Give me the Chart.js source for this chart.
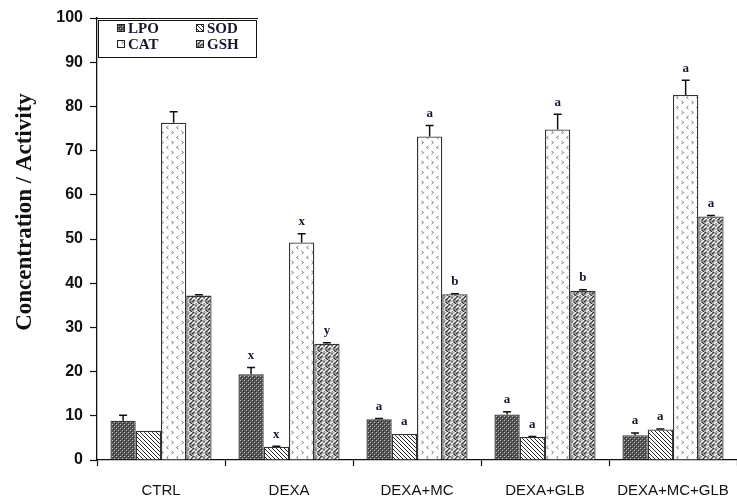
<!DOCTYPE html>
<html><head><meta charset="utf-8">
<script src="https://cdn.jsdelivr.net/npm/chart.js@4.4.1/dist/chart.umd.min.js"></script>
<style>html,body{margin:0;padding:0;background:#fff}#wrap{width:737px;height:498px}</style>
</head><body><div id="wrap"><canvas id="c" width="737" height="498"></canvas></div>
<script>
const categories = ['CTRL', 'DEXA', 'DEXA+MC', 'DEXA+GLB', 'DEXA+MC+GLB'];
const seriesNames = ['LPO', 'SOD', 'CAT', 'GSH'];
const lpo = [8.9, 19.4, 9.2, 10.3, 5.6];
const lpoErr = [1.2, 1.5, 0.2, 0.6, 0.5];
const sod = [6.6, 3.0, 5.9, 5.2, 6.9];
const sodErr = [0, 0.1, 0, 0.1, 0.1];
const cat = [76.3, 49.2, 73.2, 74.8, 82.6];
const catErr = [2.5, 2.0, 2.5, 3.4, 3.3];
const gsh = [37.2, 26.3, 37.5, 38.3, 55.1];
const gshErr = [0.2, 0.2, 0.1, 0.2, 0.2];
const lpoSig = ['', 'x', 'a', 'a', 'a'];
const sodSig = ['', 'x', 'a', 'a', 'a'];
const catSig = ['', 'x', 'a', 'a', 'a'];
const gshSig = ['', 'y', 'b', 'b', 'a'];
const yTickValues = [0, 10, 20, 30, 40, 50, 60, 70, 80, 90, 100];
const yTitle = 'Concentration / Activity';

function tile(w, h, draw) {
  const c = document.createElement('canvas');
  c.width = w; c.height = h;
  const x = c.getContext('2d');
  draw(x);
  return document.getElementById('c').getContext('2d').createPattern(c, 'repeat');
}
const patLPO = tile(4, 4, x => {
  x.fillStyle = '#555'; x.fillRect(0, 0, 4, 4);
  x.fillStyle = '#c8c8c8'; x.fillRect(0, 0, 1, 1); x.fillRect(2, 2, 1, 1);
  x.fillStyle = '#262626'; x.fillRect(1, 1, 1, 1); x.fillRect(3, 3, 1, 1);
});
const patSOD = tile(4, 4, x => {
  x.fillStyle = '#fff'; x.fillRect(0, 0, 4, 4);
  x.fillStyle = '#222';
  for (let i = 0; i < 4; i++) x.fillRect(i, i, 1, 1);
});
const patCAT = tile(10, 10, x => {
  x.fillStyle = '#fff'; x.fillRect(0, 0, 10, 10);
  x.strokeStyle = '#777'; x.lineWidth = 1;
  x.beginPath(); x.moveTo(1.5, 1); x.lineTo(3.5, 2.5); x.lineTo(1.5, 4); x.stroke();
  x.beginPath(); x.moveTo(8.5, 6); x.lineTo(6.5, 7.5); x.lineTo(8.5, 9); x.stroke();
});
const patGSH = tile(8, 8, x => {
  x.fillStyle = '#a8a8a8'; x.fillRect(0, 0, 8, 8);
  x.lineWidth = 1.2;
  x.strokeStyle = '#333';
  x.beginPath(); x.moveTo(0, 2); x.lineTo(2, 0); x.moveTo(0, 6); x.lineTo(4, 2); x.lineTo(6, 4); x.lineTo(8, 2);
  x.moveTo(4, 8); x.lineTo(6, 6); x.lineTo(8, 8); x.stroke();
  x.strokeStyle = '#fff';
  x.beginPath(); x.moveTo(0, 4); x.lineTo(2, 2); x.lineTo(4, 4); x.lineTo(8, 0);
  x.moveTo(2, 8); x.lineTo(4, 6); x.lineTo(6, 8); x.stroke();
});

const values = [lpo, sod, cat, gsh];
const errs = [lpoErr, sodErr, catErr, gshErr];
const sigs = [lpoSig, sodSig, catSig, gshSig];
const pats = [patLPO, patSOD, patCAT, patGSH];

const extras = {
  id: 'extras',
  afterDatasetsDraw(chart) {
    const ctx = chart.ctx, ys = chart.scales.y;
    ctx.save();
    chart.data.datasets.forEach((ds, di) => {
      const meta = chart.getDatasetMeta(di);
      meta.data.forEach((bar, i) => {
        const v = ds.data[i], e = errs[di][i];
        const yT = ys.getPixelForValue(v + e), yV = ys.getPixelForValue(v);
        ctx.strokeStyle = '#111'; ctx.lineWidth = 1.5;
        if (e > 0) {
          ctx.beginPath();
          ctx.moveTo(bar.x, yV); ctx.lineTo(bar.x, yT);
          ctx.moveTo(bar.x - 4, yT); ctx.lineTo(bar.x + 4, yT);
          ctx.stroke();
        }
        const s = sigs[di][i];
        if (s) {
          ctx.fillStyle = '#15153a';
          ctx.font = 'bold 13px "Liberation Serif"';
          ctx.textAlign = 'center'; ctx.textBaseline = 'middle';
          ctx.fillText(s, bar.x, yT - 12);
        }
      });
    });
    ctx.restore();
  },
  afterDraw(chart) {
    const ctx = chart.ctx, ca = chart.chartArea;
    ctx.save();
    ctx.strokeStyle = '#111'; ctx.lineWidth = 1;
    ctx.beginPath(); ctx.moveTo(ca.left, ca.top + 0.5); ctx.lineTo(258, ca.top + 0.5); ctx.stroke();
    ctx.strokeRect(98.5, 20.5, 158, 37);
    const pos = [[117, 28], [196, 28], [117, 44], [196, 44]];
    ctx.font = 'bold 15px "Liberation Serif"';
    ctx.textAlign = 'left'; ctx.textBaseline = 'middle';
    seriesNames.forEach((n, i) => {
      const [x, y] = pos[i];
      ctx.fillStyle = pats[i]; ctx.fillRect(x, y - 4, 8, 8);
      ctx.strokeStyle = '#222'; ctx.lineWidth = 1; ctx.strokeRect(x + 0.5, y - 3.5, 7, 7);
      ctx.fillStyle = '#15153a'; ctx.fillText(n, x + 11, y + 1);
    });
    ctx.translate(25, 212); ctx.rotate(-Math.PI / 2);
    ctx.font = 'bold 23px "Liberation Serif"';
    ctx.textAlign = 'center'; ctx.textBaseline = 'middle';
    ctx.fillStyle = '#111';
    ctx.fillText(yTitle, 0, 0);
    ctx.restore();
  }
};

new Chart(document.getElementById('c'), {
  type: 'bar',
  data: {
    labels: categories,
    datasets: seriesNames.map((n, i) => ({
      label: n, data: values[i], backgroundColor: pats[i],
      borderColor: '#333', borderWidth: 1.3,
      categoryPercentage: 0.79, barPercentage: 1.0
    }))
  },
  options: {
    responsive: false, animation: false,
    layout: { padding: { top: 18, right: 0, bottom: 0, left: 0 } },
    plugins: { legend: { display: false }, tooltip: { enabled: false } },
    scales: {
      x: {
        offset: true,
        grid: { offset: true, drawOnChartArea: false, color: '#111', tickLength: 6, tickWidth: 1.2 },
        border: { color: '#111', width: 1.3 },
        ticks: { color: '#111', font: { family: '"Liberation Sans"', size: 15 }, padding: 16 },
        afterFit(s) { s.height = 38; s.paddingRight = 0; s.paddingLeft = 0; }
      },
      y: {
        min: 0, max: 100,
        afterBuildTicks(s) { s.ticks = yTickValues.map(v => ({ value: v })); },
        grid: { drawOnChartArea: false, color: '#111', tickLength: 7, tickWidth: 1.2 },
        border: { color: '#111', width: 1.3 },
        ticks: { color: '#111', font: { family: '"Liberation Sans"', size: 16, weight: 'bold' }, padding: 7 },
        afterFit(s) { s.width = 97; }
      }
    }
  },
  plugins: [extras]
});
</script></body></html>
